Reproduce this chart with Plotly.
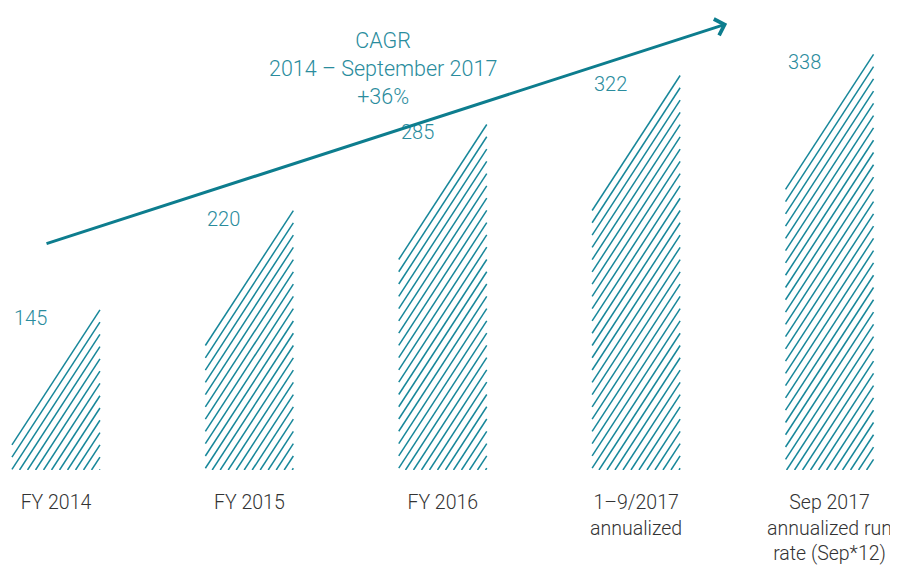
import plotly.graph_objects as go

# ---- data ----
categories = ["FY 2014", "FY 2015", "FY 2016", "1–9/2017<br>annualized",
              "Sep 2017<br>annualized run<br>rate (Sep*12)"]
values = [145, 220, 285, 322, 338]
value_labels = ["145", "220", "285", "322", "338"]
cagr_text = "CAGR<br>2014 – September 2017<br>+36%"

# ---- style / layout ----
# the page body adds an 8px offset, so the figure is 8px smaller than the window
W, H = 890, 558
M_L, M_R, M_T, M_B = 0, 0, 0, 96
X_RANGE = [-0.248, 4.354]
Y_RANGE = [24, 373]          # axis floor (bars start at the floor)
BAR_W = 0.455                # bar width in x units
HATCH_SLOPE_PX = 1.534       # rise/run of hatch lines in pixels
HATCH_STEP_PX = 8.0          # horizontal spacing of hatch lines in pixels
HATCH_COLOR = "#17879a"
TEXT_TEAL = "#2a8c9d"
ARROW_COLOR = "#0d7d8e"
LABEL_COLOR = "#333333"
FONT = "Roboto"

px_per_x = (W - M_L - M_R) / (X_RANGE[1] - X_RANGE[0])
px_per_y = (H - M_T - M_B) / (Y_RANGE[1] - Y_RANGE[0])
m = HATCH_SLOPE_PX * px_per_x / px_per_y      # data slope
dx_step = HATCH_STEP_PX / px_per_x
dy_step = m * dx_step
base = Y_RANGE[0]

fig = go.Figure()

for i, v in enumerate(values):
    x0, x1 = i - BAR_W / 2, i + BAR_W / 2
    xs, ys = [], []
    k = 0
    while True:
        y_right = v - k * dy_step
        if y_right <= base:
            break
        y_left = y_right - m * (x1 - x0)
        if y_left >= base:
            sx, sy = x0, y_left
        else:
            sx, sy = x1 - (y_right - base) / m, base
        xs += [sx, x1, None]
        ys += [sy, y_right, None]
        k += 1
    fig.add_trace(go.Scatter(x=xs, y=ys, mode="lines",
                             line=dict(color=HATCH_COLOR, width=1.5),
                             hoverinfo="skip", showlegend=False))
    fig.add_annotation(x=x0, y=v, xref="x", yref="y", text=value_labels[i],
                       showarrow=False, xanchor="left", yanchor="middle",
                       yshift=-8, font=dict(family=FONT, size=20, color=TEXT_TEAL,
                                            weight=300))

# CAGR arrow (decorative, axis-domain coordinates)
fig.add_annotation(xref="x domain", yref="y domain", axref="x domain", ayref="y domain",
                   x=0.808, y=0.966, ax=0.0416, ay=0.489, text="",
                   showarrow=True, arrowhead=4, arrowsize=1.1, arrowwidth=3,
                   arrowcolor=ARROW_COLOR, standoff=0, startstandoff=0)
fig.add_annotation(xref="x domain", yref="y domain", x=0.4213, y=0.870, text=cagr_text,
                   showarrow=False, xanchor="center", yanchor="middle",
                   font=dict(family=FONT, size=21.5, color=TEXT_TEAL, weight=300))

fig.update_layout(
    width=W, height=H,
    margin=dict(l=M_L, r=M_R, t=M_T, b=M_B),
    paper_bgcolor="white", plot_bgcolor="white",
    xaxis=dict(range=X_RANGE, tickmode="array", tickvals=list(range(len(categories))),
               ticktext=categories, showgrid=False, zeroline=False, showline=False,
               ticks="outside", ticklen=15, tickcolor="rgba(0,0,0,0)", automargin=False,
               tickfont=dict(family=FONT, size=19.5, color=LABEL_COLOR, weight=300),
               fixedrange=True),
    yaxis=dict(range=Y_RANGE, visible=False, fixedrange=True, automargin=False),
)

fig.write_html("out.html")
